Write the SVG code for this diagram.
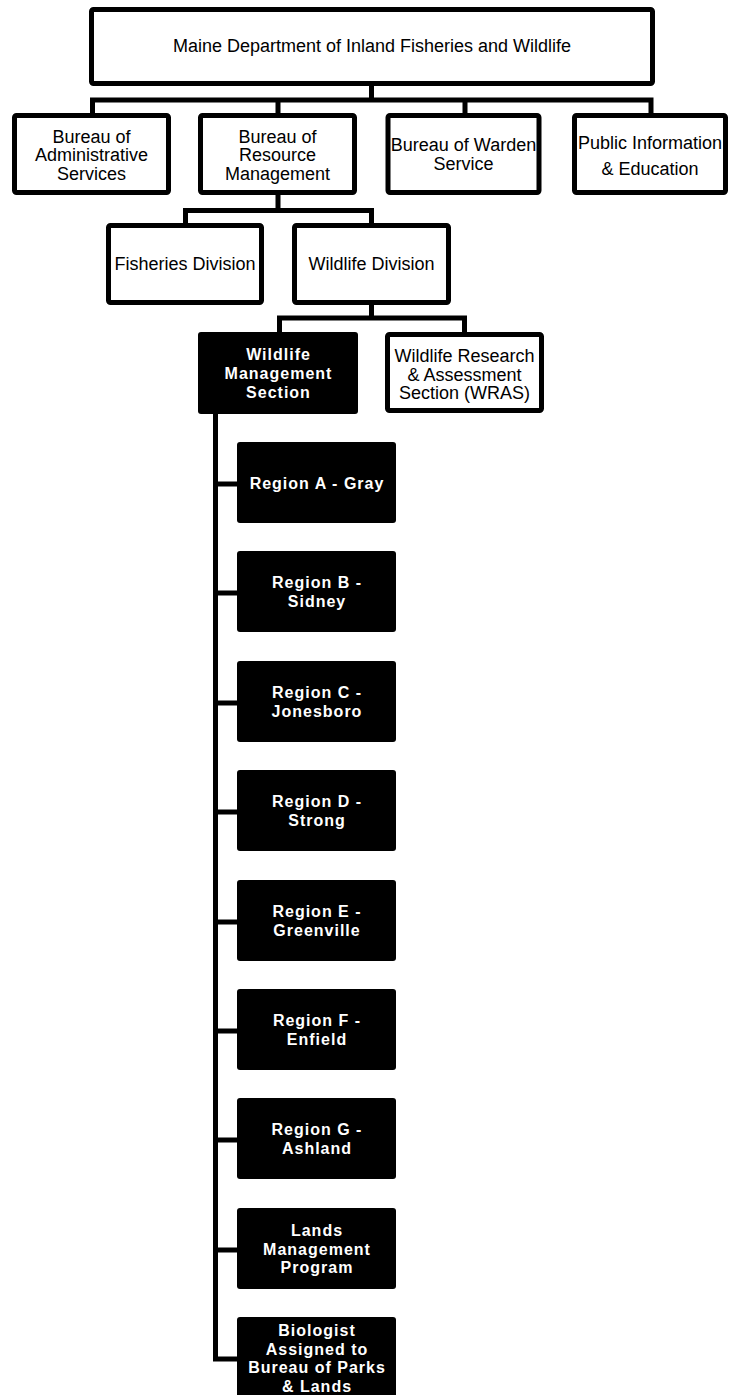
<svg xmlns="http://www.w3.org/2000/svg" width="734" height="1395" viewBox="0 0 734 1395">
<style>
.wb{fill:#fff;stroke:#000;stroke-width:5}
.bb{fill:#000;stroke:none}
.t{font-family:"Liberation Sans",Arial,sans-serif;font-size:18px;fill:#000;text-anchor:middle}
.tb{font-family:"Liberation Sans",Arial,sans-serif;font-size:16px;font-weight:bold;letter-spacing:1px;fill:#fff;text-anchor:middle}
.c{fill:none;stroke:#000;stroke-width:5}
</style>
<rect width="734" height="1395" fill="#fff"/>
<g id="connectors" class="c">
<path d="M371.5,86 V100 M92.5,113 V100 H651 V113 M278,100 V113 M465,100 V113"/>
<path d="M278,195 V210.5 M185.5,223 V210.5 H371.5 V223"/>
<path d="M371.5,305 V318 M279.5,332 V318 H464.5 V332"/>
<path d="M215.5,414 V1359 H238"/>
<path d="M215.5,484 H238 M215.5,593 H238 M215.5,703 H238 M215.5,812 H238 M215.5,922 H238 M215.5,1031 H238 M215.5,1140 H238 M215.5,1250 H238"/>
</g>
<g id="dept">
<rect class="wb" x="91.5" y="9.5" width="561" height="74" rx="2"/>
<text class="t" x="372" y="51.5">Maine Department of Inland Fisheries and Wildlife</text>
</g>
<g id="admin">
<rect class="wb" x="14.5" y="115.5" width="154" height="77" rx="2"/>
<text class="t" x="91.5" y="142.5">Bureau of</text>
<text class="t" x="91.5" y="161">Administrative</text>
<text class="t" x="91.5" y="179.5">Services</text>
</g>
<g id="resource">
<rect class="wb" x="200.5" y="115.5" width="154" height="77" rx="2"/>
<text class="t" x="277.5" y="142.5">Bureau of</text>
<text class="t" x="277.5" y="161">Resource</text>
<text class="t" x="277.5" y="179.5">Management</text>
</g>
<g id="warden">
<rect class="wb" x="388" y="115.5" width="151" height="77" rx="2"/>
<text class="t" x="463.5" y="150.5">Bureau of Warden</text>
<text class="t" x="463.5" y="169.5">Service</text>
</g>
<g id="public">
<rect class="wb" x="574.5" y="115.5" width="151" height="77" rx="2"/>
<text class="t" x="650" y="148.5">Public Information</text>
<text class="t" x="650" y="174.5">&amp; Education</text>
</g>
<g id="fisheries">
<rect class="wb" x="108.5" y="225.5" width="153" height="77" rx="2"/>
<text class="t" x="185" y="269.5">Fisheries Division</text>
</g>
<g id="wildlife">
<rect class="wb" x="294.5" y="225.5" width="154" height="77" rx="2"/>
<text class="t" x="371.5" y="269.5">Wildlife Division</text>
</g>
<g id="wms">
<rect class="bb" x="198" y="332" width="160" height="82" rx="3"/>
<text class="tb" x="278.5" y="360">Wildlife</text>
<text class="tb" x="278.5" y="379">Management</text>
<text class="tb" x="278.5" y="398">Section</text>
</g>
<g id="wras">
<rect class="wb" x="387.5" y="334.5" width="154" height="76" rx="2"/>
<text class="t" x="464.5" y="361.5">Wildlife Research</text>
<text class="t" x="464.5" y="380.5">&amp; Assessment</text>
<text class="t" x="464.5" y="398.5">Section (WRAS)</text>
</g>
<g id="regionA">
<rect class="bb" x="237" y="442" width="159" height="81" rx="3"/>
<text class="tb" x="317" y="489">Region A - Gray</text>
</g>
<g id="regionB">
<rect class="bb" x="237" y="551" width="159" height="81" rx="3"/>
<text class="tb" x="317" y="587.7">Region B -</text>
<text class="tb" x="317" y="606.7">Sidney</text>
</g>
<g id="regionC">
<rect class="bb" x="237" y="661" width="159" height="81" rx="3"/>
<text class="tb" x="317" y="697.7">Region C -</text>
<text class="tb" x="317" y="716.7">Jonesboro</text>
</g>
<g id="regionD">
<rect class="bb" x="237" y="770" width="159" height="81" rx="3"/>
<text class="tb" x="317" y="806.7">Region D -</text>
<text class="tb" x="317" y="825.7">Strong</text>
</g>
<g id="regionE">
<rect class="bb" x="237" y="880" width="159" height="81" rx="3"/>
<text class="tb" x="317" y="916.7">Region E -</text>
<text class="tb" x="317" y="935.7">Greenville</text>
</g>
<g id="regionF">
<rect class="bb" x="237" y="989" width="159" height="81" rx="3"/>
<text class="tb" x="317" y="1025.7">Region F -</text>
<text class="tb" x="317" y="1044.7">Enfield</text>
</g>
<g id="regionG">
<rect class="bb" x="237" y="1098" width="159" height="81" rx="3"/>
<text class="tb" x="317" y="1134.7">Region G -</text>
<text class="tb" x="317" y="1153.7">Ashland</text>
</g>
<g id="lands">
<rect class="bb" x="237" y="1208" width="159" height="81" rx="3"/>
<text class="tb" x="317" y="1236">Lands</text>
<text class="tb" x="317" y="1255">Management</text>
<text class="tb" x="317" y="1273">Program</text>
</g>
<g id="biologist">
<rect class="bb" x="237" y="1317" width="159" height="84" rx="3"/>
<text class="tb" x="317" y="1336">Biologist</text>
<text class="tb" x="317" y="1354.5">Assigned to</text>
<text class="tb" x="317" y="1373">Bureau of Parks</text>
<text class="tb" x="317" y="1391.5">&amp; Lands</text>
</g>
</svg>
